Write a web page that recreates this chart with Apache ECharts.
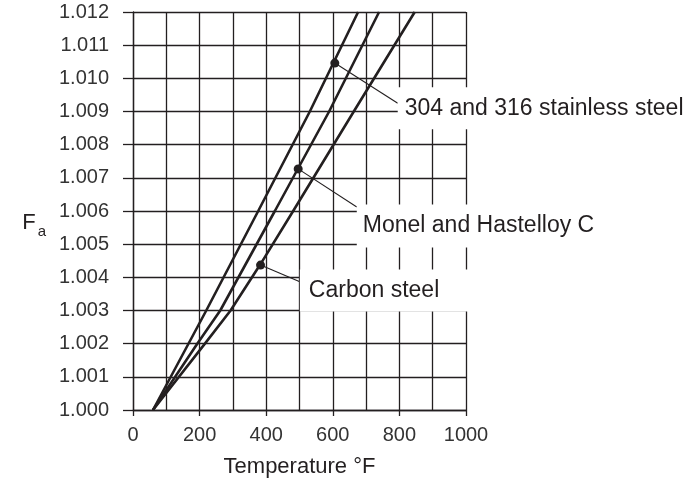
<!DOCTYPE html>
<html>
<head>
<meta charset="utf-8">
<script src="https://cdn.jsdelivr.net/npm/echarts@6/dist/echarts.min.js"></script>
<style>
html,body{margin:0;padding:0;background:#fff;}
#chart{width:692px;height:487px;}
</style>
</head>
<body>
<div id="chart"></div>
<script>
// ---- data ----
const stainlessT  = [60, 220, 376, 531, 676];
const stainlessFa = [1.000, 1.003, 1.006, 1.009, 1.012];

const monelT  = [60, 193, 262, 426, 589, 739];
const monelFa = [1.000, 1.002, 1.003, 1.006, 1.009, 1.012];

const carbonT  = [60, 216, 293, 383, 481, 663, 846];
const carbonFa = [1.000, 1.002, 1.003, 1.0044, 1.006, 1.009, 1.012];

const seriesNames = ['304 and 316 stainless steel', 'Monel and Hastelloy C', 'Carbon steel'];
const dotT  = [606, 496, 383];
const dotFa = [1.01046, 1.00727, 1.00437];
const leaderT  = [795, 672, 501];
const leaderFa = [1.00925, 1.00612, 1.00387];
const labelT  = [795, 672, 501];
const labelFa = [1.00910, 1.00555, 1.00360];

const xTicks = [0, 200, 400, 600, 800, 1000];
const yMin = 1.000, yMax = 1.012, yStep = 0.001;

// ---- build ----
const ink = '#231f20';
const txt = '#333333';
const font = 'Liberation Sans, Arial, sans-serif';
const pairs = (xs, ys) => xs.map((x, i) => [x, ys[i]]);

const curveStyle = { color: ink, width: 2.6 };
const series = [
  { type: 'line', data: pairs(stainlessT, stainlessFa), symbol: 'none', lineStyle: curveStyle, z: 3 },
  { type: 'line', data: pairs(monelT, monelFa), symbol: 'none', lineStyle: curveStyle, z: 3 },
  { type: 'line', data: pairs(carbonT, carbonFa), symbol: 'none', lineStyle: curveStyle, z: 3 }
];
for (let i = 0; i < 3; i++) {
  series.push({
    type: 'line',
    data: [[dotT[i], dotFa[i]], [leaderT[i], leaderFa[i]]],
    symbol: 'none',
    lineStyle: { color: ink, width: 1.1 },
    z: 4
  });
}
series.push({
  type: 'scatter',
  data: pairs(dotT, dotFa),
  symbolSize: 9,
  itemStyle: { color: ink, opacity: 1 },
  z: 6
});
const pads = [[9, 20, 9, 7], [9, 20, 10, 6], [9, 40, 9, 9]];
series.push({
  type: 'scatter',
  data: labelT.map((t, i) => ({
    value: [t, labelFa[i]],
    name: seriesNames[i],
    label: { padding: pads[i] }
  })),
  symbolSize: 0,
  itemStyle: { opacity: 1 },
  z: 5,
  label: {
    show: true,
    position: 'right',
    distance: 0,
    formatter: p => p.name,
    fontFamily: font,
    fontSize: 23,
    lineHeight: 24,
    color: ink,
    opacity: 1,
    backgroundColor: '#ffffff'
  }
});

const gridLine = { show: true, lineStyle: { color: ink, width: 1.3 } };

const option = {
  backgroundColor: '#ffffff',
  animation: false,
  grid: { left: 133, right: 226, top: 12, bottom: 77, containLabel: false },
  xAxis: {
    type: 'value',
    min: xTicks[0],
    max: xTicks[xTicks.length - 1],
    interval: xTicks[1] - xTicks[0],
    name: 'Temperature °F',
    nameLocation: 'middle',
    nameGap: 46,
    nameTextStyle: { fontFamily: font, fontSize: 22, color: ink },
    axisLine: { show: true, onZero: false, lineStyle: { color: ink, width: 1.3 } },
    axisTick: { show: true, length: 6, lineStyle: { color: ink, width: 1.3 } },
    axisLabel: { margin: 15, fontFamily: font, fontSize: 20, color: txt, formatter: v => String(v) },
    splitLine: gridLine,
    minorTick: { show: false, splitNumber: 2 },
    minorSplitLine: { show: true, lineStyle: { color: ink, width: 1.3 } }
  },
  yAxis: {
    type: 'value',
    min: yMin,
    max: yMax,
    interval: yStep,
    name: '{f|F}{s|a}',
    nameLocation: 'middle',
    nameRotate: 0,
    nameGap: 87,
    nameTextStyle: {
      padding: [24, 0, 0, 0],
      rich: {
        f: { fontFamily: font, fontSize: 22, color: ink },
        s: { fontFamily: font, fontSize: 15, color: ink, padding: [18, 0, 0, 2] }
      }
    },
    axisLine: { show: true, onZero: false, lineStyle: { color: ink, width: 1.3 } },
    axisTick: { show: true, length: 10, lineStyle: { color: ink, width: 1.3 } },
    axisLabel: {
      margin: 24,
      fontFamily: font,
      fontSize: 20,
      color: txt,
      formatter: v => v.toFixed(3)
    },
    splitLine: gridLine
  },
  series: series
};

const chart = echarts.init(document.getElementById('chart'), null, { renderer: 'canvas' });
chart.setOption(option);
</script>
</body>
</html>
